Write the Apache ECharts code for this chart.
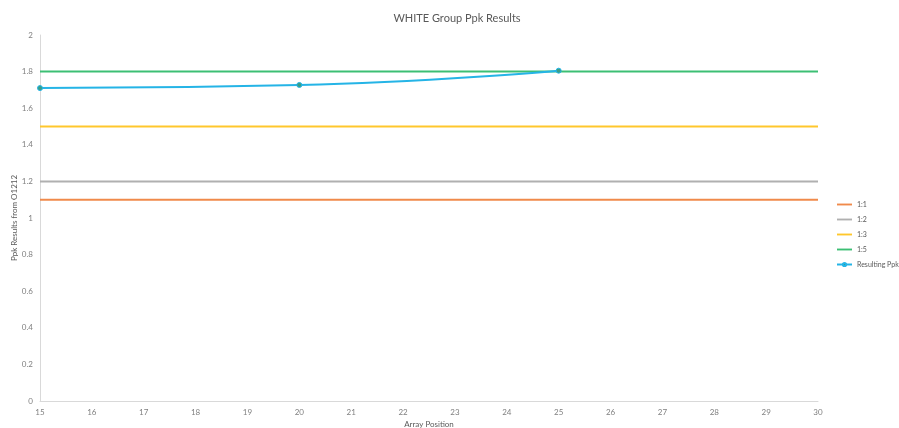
<!DOCTYPE html>
<html>
<head>
<meta charset="utf-8">
<script src="https://cdn.jsdelivr.net/npm/echarts@6/dist/echarts.min.js"></script>
<style>
  html, body { margin: 0; padding: 0; background: #fff; }
  #chart { width: 899px; height: 428px; }
</style>
</head>
<body>
<div id="chart"></div>
<script>
// Array positions and the measured Ppk at each
const positions = [15, 20, 25];
const resultingPpk = [1.71, 1.727, 1.805];

// Reference ratio limits, drawn as flat lines across the position range
const limitNames = ['1:1', '1:2', '1:3', '1:5'];
const limitValues = [1.1, 1.2, 1.5, 1.8];
const limitColors = ['#F08A4B', '#B0B0B0', '#FFC72C', '#3CBF74'];

const xRange = [15, 30];
const yTicks = [0, 0.2, 0.4, 0.6, 0.8, 1, 1.2, 1.4, 1.6, 1.8, 2];

const chart = echarts.init(document.getElementById('chart'));

const limitSeries = limitNames.map((name, i) => ({
  name: name,
  type: 'line',
  data: [[xRange[0], limitValues[i]], [xRange[1], limitValues[i]]],
  symbol: 'none',
  lineStyle: { color: limitColors[i], width: 2 },
  itemStyle: { color: limitColors[i] },
  z: 2
}));

const ppkSeries = {
  name: 'Resulting Ppk',
  type: 'line',
  smooth: true,
  data: positions.map((p, i) => [p, resultingPpk[i]]),
  symbol: 'circle',
  symbolSize: 5,
  showSymbol: true,
  lineStyle: { color: '#25B4E6', width: 2 },
  itemStyle: { color: '#3A9E86', borderColor: '#25B4E6', borderWidth: 1 },
  z: 3
};

const font = 'Lato, "Open Sans", sans-serif';
// thin bar used as the legend key for the flat limit lines
const lineIcon = 'path://M0,0 L16,0 L16,2 L0,2 Z';

chart.setOption({
  animation: false,
  textStyle: { fontFamily: font },
  title: {
    text: 'WHITE Group Ppk Results',
    left: 452,
    top: 8,
    textAlign: 'center',
    textStyle: { fontSize: 11, fontWeight: 'normal', color: '#595959', fontFamily: font }
  },
  grid: { left: 40, right: 81, top: 35, bottom: 27, containLabel: false, outerBoundsMode: 'none' },
  legend: {
    orient: 'vertical',
    left: 836,
    top: 201,
    padding: 0,
    itemWidth: 15,
    itemHeight: 4,
    itemGap: 8,
    textStyle: { fontSize: 7, color: '#595959', fontFamily: font },
    data: limitNames.map(n => ({ name: n, icon: lineIcon })).concat([{ name: 'Resulting Ppk' }])
  },
  xAxis: {
    type: 'value',
    min: xRange[0],
    max: xRange[1],
    interval: 1,
    name: 'Array Position',
    nameLocation: 'middle',
    nameGap: 19,
    nameTextStyle: { fontSize: 8, color: '#595959' },
    axisLine: { lineStyle: { color: '#D9D9D9', width: 1 } },
    axisTick: { show: false },
    splitLine: { show: false },
    axisLabel: { fontSize: 8, color: '#7F7F7F', margin: 7 }
  },
  yAxis: {
    type: 'value',
    min: 0,
    max: 2,
    interval: 0.2,
    name: 'Ppk Results from O1212',
    nameLocation: 'middle',
    nameGap: 22,
    nameMoveOverlap: false,
    nameTextStyle: { fontSize: 8, color: '#595959' },
    axisLine: { show: true, lineStyle: { color: '#D9D9D9', width: 1 } },
    axisTick: { show: false },
    splitLine: { show: false },
    axisLabel: {
      fontSize: 8,
      color: '#7F7F7F',
      margin: 7,
      formatter: v => {
        const t = yTicks.find(y => Math.abs(y - v) < 1e-9);
        return t === undefined ? '' : String(t);
      }
    }
  },
  series: limitSeries.concat([ppkSeries])
});
</script>
</body>
</html>
